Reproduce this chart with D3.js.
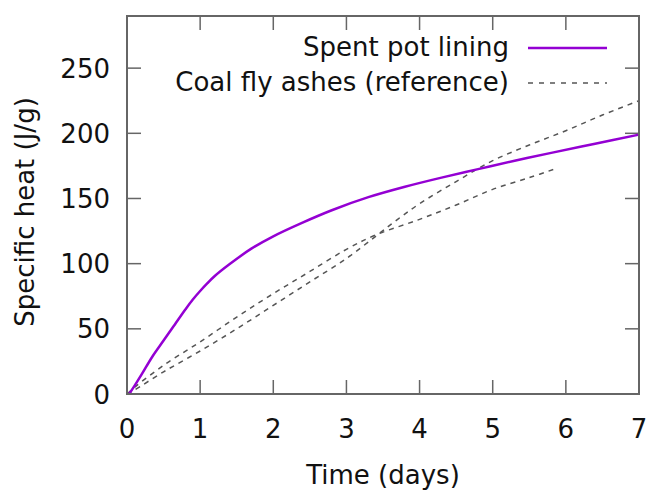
<html>

<head>
    <title>Specific heat</title>
    <script src="https://d3js.org/d3.v7.min.js"></script>
    <style>
        body {
            margin: 0;
            background: #fff;
        }

        text {
            font-family: "DejaVu Sans", sans-serif;
            fill: #111;
        }

        .frame {
            fill: none;
            stroke: #666;
            stroke-width: 2px;
        }
    </style>
</head>

<body>
    <svg id="chart" height="495" width="650" style="background: #fff"></svg>

    <script>
        // values
        const spentDays = [0.03, 0.1, 0.2, 0.35, 0.5, 0.65, 0.8, 0.9, 1.0, 1.1, 1.2, 1.4, 1.7, 2.0, 2.4, 2.8, 3.3, 3.8, 4.3, 4.8, 5.3, 5.8, 6.4, 7.0];
        const spentHeat = [0, 6, 15, 29, 41, 53, 65, 72.5, 79, 85, 90.5, 99.5, 111.5, 121, 131.5, 141, 151, 159, 166, 172.5, 179, 185, 192, 199];

        const ashADays = [0, 0.1, 0.5, 1, 1.5, 2, 2.5, 3, 3.4, 3.7, 4, 4.5, 5, 5.5, 6, 6.5, 7];
        const ashAHeat = [0, 3, 17, 33, 50, 68, 86, 104, 121, 134, 146, 163, 179, 191, 202, 214, 225];

        const ashBDays = [0, 0.1, 0.5, 1, 1.5, 2, 2.5, 3, 3.4, 4, 4.5, 5, 5.5, 5.87];
        const ashBHeat = [0, 5, 22, 40, 59, 77, 94, 111, 122, 134, 145, 157, 166, 173];

        const xTicks = [0, 1, 2, 3, 4, 5, 6, 7];
        const yTicks = [0, 50, 100, 150, 200, 250];
        const seriesNames = ["Spent pot lining", "Coal fly ashes (reference)"];

        const svg = d3.select("#chart");
        const plot = { left: 127, right: 639, top: 16, bottom: 394 };

        const x = d3.scaleLinear().domain([0, 7]).range([plot.left, plot.right]);
        const y = d3.scaleLinear().domain([0, 290]).range([plot.bottom, plot.top]);

        const tickLen = 14;

        // ticks on all four sides, pointing inwards
        let ticks = svg.append("g").attr("stroke", "#666").attr("stroke-width", 1.5);
        xTicks.forEach(t => {
            ticks.append("line").attr("x1", x(t)).attr("x2", x(t))
                .attr("y1", plot.bottom).attr("y2", plot.bottom - tickLen);
            ticks.append("line").attr("x1", x(t)).attr("x2", x(t))
                .attr("y1", plot.top).attr("y2", plot.top + tickLen);
        });
        yTicks.forEach(t => {
            ticks.append("line").attr("y1", y(t)).attr("y2", y(t))
                .attr("x1", plot.left).attr("x2", plot.left + tickLen);
            ticks.append("line").attr("y1", y(t)).attr("y2", y(t))
                .attr("x1", plot.right).attr("x2", plot.right - tickLen);
        });

        svg.append("g").selectAll("text").data(xTicks).join("text")
            .attr("x", d => x(d))
            .attr("y", plot.bottom + 44)
            .attr("text-anchor", "middle")
            .attr("font-size", 26)
            .text(d => d);

        svg.append("g").selectAll("text").data(yTicks).join("text")
            .attr("x", plot.left - 17)
            .attr("y", d => y(d) + 9.5)
            .attr("text-anchor", "end")
            .attr("font-size", 26)
            .text(d => d);

        // lines
        const line = d3.line().x(d => x(d[0])).y(d => y(d[1])).curve(d3.curveCatmullRom.alpha(0.5));
        const zip = (a, b) => a.map((v, i) => [v, b[i]]);

        svg.append("path").datum(zip(ashADays, ashAHeat))
            .attr("d", line).attr("fill", "none")
            .attr("stroke", "#555").attr("stroke-width", 1.5).attr("stroke-dasharray", "5,5");
        svg.append("path").datum(zip(ashBDays, ashBHeat))
            .attr("d", line).attr("fill", "none")
            .attr("stroke", "#555").attr("stroke-width", 1.5).attr("stroke-dasharray", "5,5");
        svg.append("path").datum(zip(spentDays, spentHeat))
            .attr("d", line).attr("fill", "none")
            .attr("stroke", "#9400d3").attr("stroke-width", 2.5);

        svg.append("rect").attr("class", "frame")
            .attr("x", plot.left).attr("y", plot.top)
            .attr("width", plot.right - plot.left).attr("height", plot.bottom - plot.top);

        // legend
        const legendStyles = [
            { stroke: "#9400d3", width: 2.5, dash: null },
            { stroke: "#555", width: 1.5, dash: "5,6" }
        ];
        seriesNames.forEach((d, i) => {
            let ly = 48 + 35 * i;
            svg.append("text")
                .attr("x", 509)
                .attr("y", ly + 8)
                .attr("text-anchor", "end")
                .attr("font-size", 26)
                .text(d);
            svg.append("line")
                .attr("x1", 528).attr("x2", 607)
                .attr("y1", ly).attr("y2", ly)
                .attr("stroke", legendStyles[i].stroke)
                .attr("stroke-width", legendStyles[i].width)
                .attr("stroke-dasharray", legendStyles[i].dash);
        });

        // axis titles
        svg.append("text")
            .attr("x", (plot.left + plot.right) / 2)
            .attr("y", 484)
            .attr("text-anchor", "middle")
            .attr("font-size", 26)
            .text("Time (days)");

        svg.append("text")
            .attr("transform", "translate(34, 212) rotate(-90)")
            .attr("text-anchor", "middle")
            .attr("font-size", 26)
            .text("Specific heat (J/g)");
    </script>
</body>

</html>
